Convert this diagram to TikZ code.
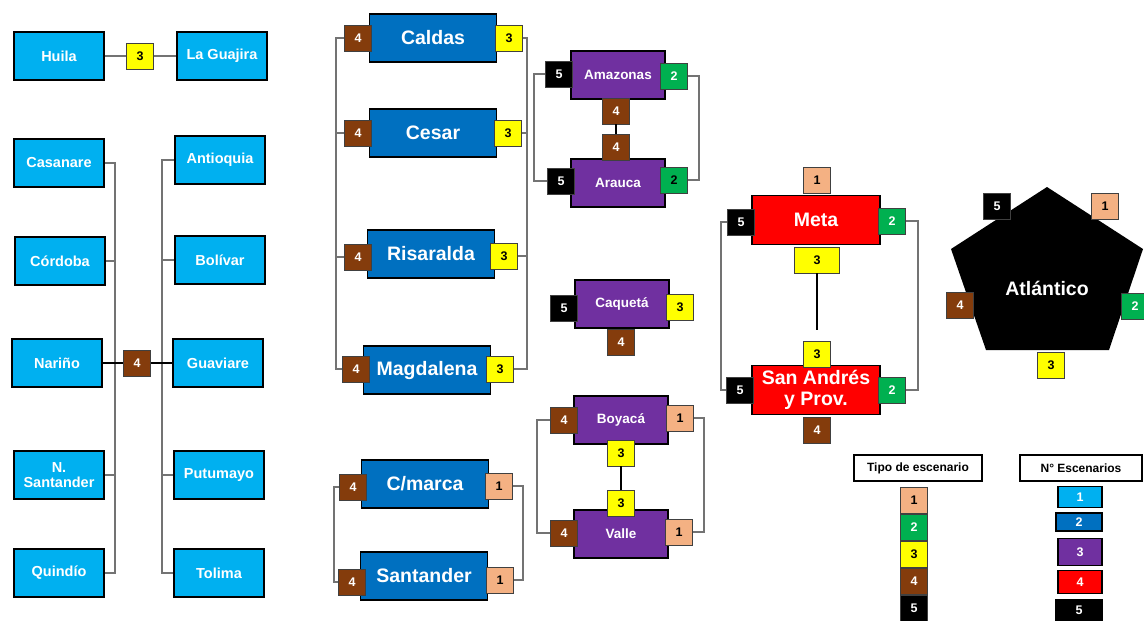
\documentclass[tikz,border=0pt]{standalone}
\usepackage{fontspec}
\setmainfont{Liberation Sans}
\usetikzlibrary{positioning}

\definecolor{celeste}{HTML}{00B0F0}
\definecolor{azul}{HTML}{0070C0}
\definecolor{morado}{HTML}{7030A0}
\definecolor{rojo}{HTML}{FF0000}
\definecolor{salmon}{HTML}{F4B183}
\definecolor{verde}{HTML}{00B050}
\definecolor{amarillo}{HTML}{FFFF00}
\definecolor{cafe}{HTML}{843C0C}

\begin{document}
\begin{tikzpicture}[x=1pt, y=-1pt,
    caja/.style={draw=black, line width=1.8pt, text=white, align=center, inner sep=1pt},
    n1/.style={caja, fill=celeste, minimum width=90pt, minimum height=48pt, font=\bfseries\fontsize{14.5}{15}\selectfont},
    n2/.style={caja, fill=azul, minimum width=127pt, minimum height=48pt, font=\bfseries\fontsize{19.5}{21}\selectfont},
    n3/.style={caja, fill=morado, minimum width=94pt, minimum height=48pt, font=\bfseries\fontsize{13.5}{14}\selectfont},
    n4/.style={caja, fill=rojo, minimum width=128pt, minimum height=49pt, font=\bfseries\fontsize{19.5}{21}\selectfont},
    ficha/.style={draw=black!75, line width=0.9pt, minimum width=27pt, minimum height=26pt, inner sep=0pt, font=\bfseries\fontsize{12.5}{12.5}\selectfont},
    f1/.style={ficha, fill=salmon, text=black},
    f2/.style={ficha, fill=verde, text=white},
    f3/.style={ficha, fill=amarillo, text=black},
    f4/.style={ficha, fill=cafe, text=white},
    f5/.style={ficha, fill=black, text=white},
    leyenda/.style={draw=black, line width=1.8pt, fill=white, minimum width=128pt, minimum height=26pt, font=\bfseries\fontsize{12}{12}\selectfont},
    esc/.style={draw=black, line width=1.8pt, text=white, minimum width=44pt, minimum height=21pt, inner sep=0pt, font=\bfseries\fontsize{12.5}{12.5}\selectfont},
    linea/.style={draw=black!55, line width=1.2pt}]
  \useasboundingbox (0,0) rectangle (1144,621);

  % --- 3 y 4 escenarios: celeste
  \node[n1] (hui) at (59,56) {Huila};
  \node[f3] (hui3) at (140,56) {3};
  \node[n1] (lag) at (222,56) {La Guajira};
  \node[n1] (cas) at (59,163) {Casanare};
  \node[n1] (cor) at (60,261) {Córdoba};
  \node[n1] (nar) at (57,363) {Nariño};
  \node[n1] (nsa) at (59,475) {N.\\Santander};
  \node[n1] (qui) at (59,573) {Quindío};
  \node[n1] (ant) at (220,160) {Antioquia};
  \node[n1] (bol) at (220,260) {Bolívar};
  \node[n1] (gua) at (218,363) {Guaviare};
  \node[n1] (put) at (219,475) {Putumayo};
  \node[n1] (tol) at (219,573) {Tolima};
  \node[f4] (nar4) at (137,363) {4};

  \coordinate (busa) at (115,0);
  \coordinate (busb) at (162,0);
  \draw[linea] (hui.east) -- (hui3.west);
  \draw[linea] (hui3.east) -- (lag.west);
  \draw[linea] (cas.east) -- (cas.east -| busa) -- (qui.east -| busa) -- (qui.east);
  \draw[linea] (cor.east) -- (cor.east -| busa);
  \draw[linea] (nsa.east) -- (nsa.east -| busa);
  \draw[linea] (ant.west) -- (ant.west -| busb) -- (tol.west -| busb) -- (tol.west);
  \draw[linea] (bol.west) -- (bol.west -| busb);
  \draw[linea] (put.west) -- (put.west -| busb);
  \draw[linea, draw=black] (nar.east) -- (nar4.west);
  \draw[linea, draw=black] (nar4.east) -- (gua.west);

  % --- azul
  \node[n2] (cal) at (433,38) {Caldas};
  \node[f4] (cal4) at (358,38) {4};
  \node[f3] (cal3) at (509,38) {3};
  \node[n2] (ces) at (433,133) {Cesar};
  \node[f4] (ces4) at (358,133) {4};
  \node[f3] (ces3) at (508,133) {3};
  \node[n2] (ris) at (431,254) {Risaralda};
  \node[f4] (ris4) at (358,257) {4};
  \node[f3] (ris3) at (504,256) {3};
  \node[n2] (mag) at (427,370) {Magdalena};
  \node[f4] (mag4) at (356,369) {4};
  \node[f3] (mag3) at (500,369) {3};
  \node[n2] (cmar) at (425,484) {C/marca};
  \node[f4] (cmar4) at (353,487) {4};
  \node[f1] (cmar1) at (499,486) {1};
  \node[n2] (san) at (424,576) {Santander};
  \node[f4] (san4) at (352,582) {4};
  \node[f1] (san1) at (500,580) {1};

  \coordinate (busc) at (336,0);
  \coordinate (busd) at (527,0);
  \coordinate (buse) at (334,0);
  \coordinate (busf) at (523,0);
  \draw[linea] (cal4.west) -- (cal4.west -| busc) -- (mag4.west -| busc) -- (mag4.west);
  \draw[linea] (ces4.west) -- (ces4.west -| busc);
  \draw[linea] (ris4.west) -- (ris4.west -| busc);
  \draw[linea] (cal3.east) -- (cal3.east -| busd) -- (mag3.east -| busd) -- (mag3.east);
  \draw[linea] (ces3.east) -- (ces3.east -| busd);
  \draw[linea] (ris3.east) -- (ris3.east -| busd);
  \draw[linea] (cmar4.west) -- (cmar4.west -| buse) -- (san4.west -| buse) -- (san4.west);
  \draw[linea] (cmar1.east) -- (cmar1.east -| busf) -- (san1.east -| busf) -- (san1.east);

  % --- morado
  \node[n3] (ama) at (618,75) {Amazonas};
  \node[f5] (ama5) at (559,74) {5};
  \node[f2] (ama2) at (674,76) {2};
  \node[f4] (ama4) at (616,111) {4};
  \node[n3] (ara) at (618,183) {Arauca};
  \node[f4] (ara4) at (616,147) {4};
  \node[f5] (ara5) at (561,181) {5};
  \node[f2, text=black] (ara2) at (674,180) {2};
  \node[n3] (caq) at (622,304) {Caquetá};
  \node[f5] (caq5) at (564,308) {5};
  \node[f3] (caq3) at (680,307) {3};
  \node[f4] (caq4) at (621,342) {4};
  \node[n3] (boy) at (621,420) {Boyacá};
  \node[f4] (boy4) at (564,420) {4};
  \node[f1] (boy1) at (680,418) {1};
  \node[f3] (boy3) at (621,453) {3};
  \node[n3] (val) at (621,534) {Valle};
  \node[f3] (val3) at (621,503) {3};
  \node[f4] (val4) at (564,533) {4};
  \node[f1] (val1) at (679,532) {1};

  \coordinate (busg) at (534,0);
  \coordinate (bush) at (699,0);
  \coordinate (busi) at (537,0);
  \coordinate (busj) at (704,0);
  \draw[linea] (ama5.west) -- (ama5.west -| busg) -- (ara5.west -| busg) -- (ara5.west);
  \draw[linea] (ama2.east) -- (ama2.east -| bush) -- (ara2.east -| bush) -- (ara2.east);
  \draw[linea, draw=black] (ama4) -- (ara4);
  \draw[linea] (boy4.west) -- (boy4.west -| busi) -- (val4.west -| busi) -- (val4.west);
  \draw[linea] (boy1.east) -- (boy1.east -| busj) -- (val1.east -| busj) -- (val1.east);
  \draw[linea, draw=black] (boy3) -- (val3);

  % --- rojo
  \node[n4] (met) at (816,220) {Meta};
  \node[f1] (met1) at (817,180) {1};
  \node[f5] (met5) at (741,222) {5};
  \node[f2] (met2) at (892,221) {2};
  \node[f3, minimum width=45pt] (met3) at (817,260) {3};
  \node[n4] (sai) at (816,390) {San Andrés\\y Prov.};
  \node[f3] (sai3) at (817,354) {3};
  \node[f5] (sai5) at (740,390) {5};
  \node[f2] (sai2) at (892,390) {2};
  \node[f4] (sai4) at (817,430) {4};

  \coordinate (busk) at (721,0);
  \coordinate (busl) at (918,0);
  \draw[linea] (met5.west) -- (met5.west -| busk) -- (sai5.west -| busk) -- (sai5.west);
  \draw[linea] (met2.east) -- (met2.east -| busl) -- (sai2.east -| busl) -- (sai2.east);
  \draw[linea, draw=black] (met3.south) -- ([yshift=11pt]sai3.north);

  % --- negro
  \fill[black] (1047,187) -- (1143,249) -- (1109,350) -- (986,350) -- (951,249) -- cycle;
  \node[text=white, font=\bfseries\fontsize{19.5}{21}\selectfont] (atl) at (1047,288) {Atlántico};
  \node[f5] (atl5) at (997,206) {5};
  \node[f1] (atl1) at (1105,206) {1};
  \node[f4] (atl4) at (960,305) {4};
  \node[f2] (atl2) at (1135,306) {2};
  \node[f3] (atl3) at (1051,365) {3};

  % --- convenciones
  \node[leyenda] (tipo) at (918,468) {Tipo de escenario};
  \node[leyenda, minimum width=122pt] (nesc) at (1081,468) {N° Escenarios};
  \node[f1] (ty1) at (914,500.5) {1};
  \node[f2, below=0pt of ty1] (ty2) {2};
  \node[f3, below=0pt of ty2] (ty3) {3};
  \node[f4, below=0pt of ty3] (ty4) {4};
  \node[f5, below=0pt of ty4] (ty5) {5};
  \node[esc, fill=celeste] (es1) at (1080,497) {1};
  \node[esc, fill=azul, minimum width=46pt, minimum height=18pt] (es2) at (1079,522) {2};
  \node[esc, fill=morado, minimum height=27pt] (es3) at (1080,552) {3};
  \node[esc, fill=rojo, minimum height=23pt] (es4) at (1080,582) {4};
  \node[esc, fill=black, minimum width=46pt] (es5) at (1079,610) {5};
\end{tikzpicture}
\end{document}
